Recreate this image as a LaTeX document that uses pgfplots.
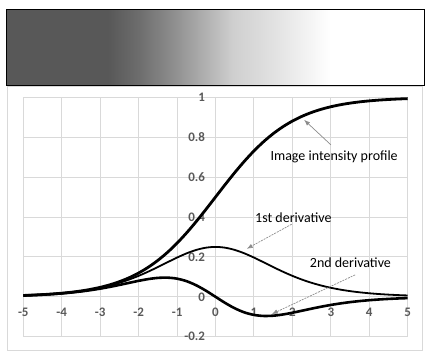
\documentclass[border=0pt]{standalone}
\usepackage{pgfplots}
\pgfplotsset{compat=1.18}
\usepackage{fontspec}
\setmainfont{Carlito}
\usetikzlibrary{arrows.meta}
\definecolor{gridc}{HTML}{D9D9D9}
\definecolor{tickc}{HTML}{595959}
\definecolor{arrc}{HTML}{8C8C8C}
\definecolor{g0}{HTML}{585858}
\definecolor{g1}{HTML}{6E6E6E}
\definecolor{g2}{HTML}{8E8E8E}
\definecolor{g3}{HTML}{B0B0B0}
\definecolor{g4}{HTML}{CFCFCF}
\definecolor{g5}{HTML}{E6E6E6}
\pgfdeclarehorizontalshading{bar}{100bp}{color(0bp)=(g0); color(37.19bp)=(g0); color(41.02bp)=(g1); color(44.96bp)=(g2); color(48.79bp)=(g3); color(52.13bp)=(g4); color(58.11bp)=(g5); color(63.73bp)=(white); color(100bp)=(white)}

\pgfplotstableread{
x s d1 d2
-5 0.006693 0.006648 0.006559
-4.75 0.008578 0.008504 0.008358
-4.5 0.010987 0.010866 0.010627
-4.25 0.014064 0.013866 0.013476
-4 0.017986 0.017663 0.017028
-3.75 0.022977 0.022449 0.021417
-3.5 0.029312 0.028453 0.026785
-3.25 0.037327 0.035934 0.033251
-3 0.047426 0.045177 0.040892
-2.75 0.060087 0.056477 0.049690
-2.5 0.075858 0.070104 0.059468
-2.25 0.095349 0.086257 0.069808
-2 0.119203 0.104994 0.079963
-1.75 0.148047 0.126129 0.088783
-1.5 0.182426 0.149146 0.094730
-1.25 0.222700 0.173105 0.096004
-1 0.268941 0.196612 0.090858
-0.75 0.320821 0.217895 0.078084
-0.5 0.377541 0.235004 0.057557
-0.25 0.437823 0.246134 0.030608
0 0.5 0.25 0
0.25 0.562177 0.246134 -0.030608
0.5 0.622459 0.235004 -0.057557
0.75 0.679179 0.217895 -0.078084
1 0.731059 0.196612 -0.090858
1.25 0.777300 0.173105 -0.096004
1.5 0.817574 0.149146 -0.094730
1.75 0.851953 0.126129 -0.088783
2 0.880797 0.104994 -0.079963
2.25 0.904651 0.086257 -0.069808
2.5 0.924142 0.070104 -0.059468
2.75 0.939913 0.056477 -0.049690
3 0.952574 0.045177 -0.040892
3.25 0.962673 0.035934 -0.033251
3.5 0.970688 0.028453 -0.026785
3.75 0.977023 0.022449 -0.021417
4 0.982014 0.017663 -0.017028
4.25 0.985936 0.013866 -0.013476
4.5 0.989013 0.010866 -0.010627
4.75 0.991422 0.008504 -0.008358
5 0.993307 0.006648 -0.006559
}\datatable

\begin{document}
\begin{tikzpicture}
\useasboundingbox (0pt,0pt) rectangle (434pt,358pt);
\draw[gridc, line width=1pt] (7.3pt,7pt) rectangle (422pt,271pt);
\shade[shading=bar] (6pt,272pt) rectangle (424.3pt,348.7pt);
\draw[black, line width=1pt] (6pt,272pt) rectangle (424.3pt,348.7pt);
\begin{axis}[
  at={(215.5pt,61.2pt)}, anchor=origin,
  x=38.44pt, y=199.5pt,
  xmin=-5, xmax=5, ymin=-0.2, ymax=1,
  axis lines=middle,
  axis line style={-, draw=gridc, line width=1pt},
  grid=major,
  grid style={draw=gridc, line width=0.9pt},
  xtick={-5,-4,-3,-2,-1,0,1,2,3,4,5},
  xticklabels={-5,-4,-3,-2,-1,0,1,2,3,4,5},
  ytick={-0.2,0,0.2,0.4,0.6,0.8,1},
  yticklabels={-0.2,0,0.2,0.4,0.6,0.8,1},
  major tick length=0pt,
  hide obscured x ticks=false, hide obscured y ticks=false,
  tick label style={font=\fontsize{13}{15}\selectfont\bfseries, text=tickc},
  xticklabel style={anchor=north, yshift=-8pt},
  yticklabel style={anchor=east, xshift=-7pt},
  clip=false,
]
\addplot[black, line width=2.8pt, smooth] table[x=x, y=s] {\datatable};
\addplot[black, line width=1.8pt, smooth] table[x=x, y=d1] {\datatable};
\addplot[black, line width=2.6pt, smooth] table[x=x, y=d2] {\datatable};

\node[font=\fontsize{14}{16}\selectfont] at (axis cs:3.086,0.703) {Image intensity profile};
\node[font=\fontsize{14}{16}\selectfont] at (axis cs:2.026,0.397) {1st derivative};
\node[font=\fontsize{14}{16}\selectfont] at (axis cs:3.51,0.172) {2nd derivative};
\draw[arrc, line width=0.7pt, -{Latex[length=6pt,width=4.5pt]}] (axis cs:3.0,0.762) -- (axis cs:2.305,0.887);
\draw[arrc, line width=0.7pt, dash pattern=on 2pt off 1pt, -{Latex[length=6pt,width=4.5pt]}] (axis cs:1.984,0.364) -- (axis cs:0.8125,0.2406);
\draw[arrc, line width=0.7pt, dash pattern=on 2pt off 1pt, -{Latex[length=6pt,width=4.5pt]}] (axis cs:3.633,0.110) -- (axis cs:1.464,-0.0867);
\end{axis}
\end{tikzpicture}
\end{document}
